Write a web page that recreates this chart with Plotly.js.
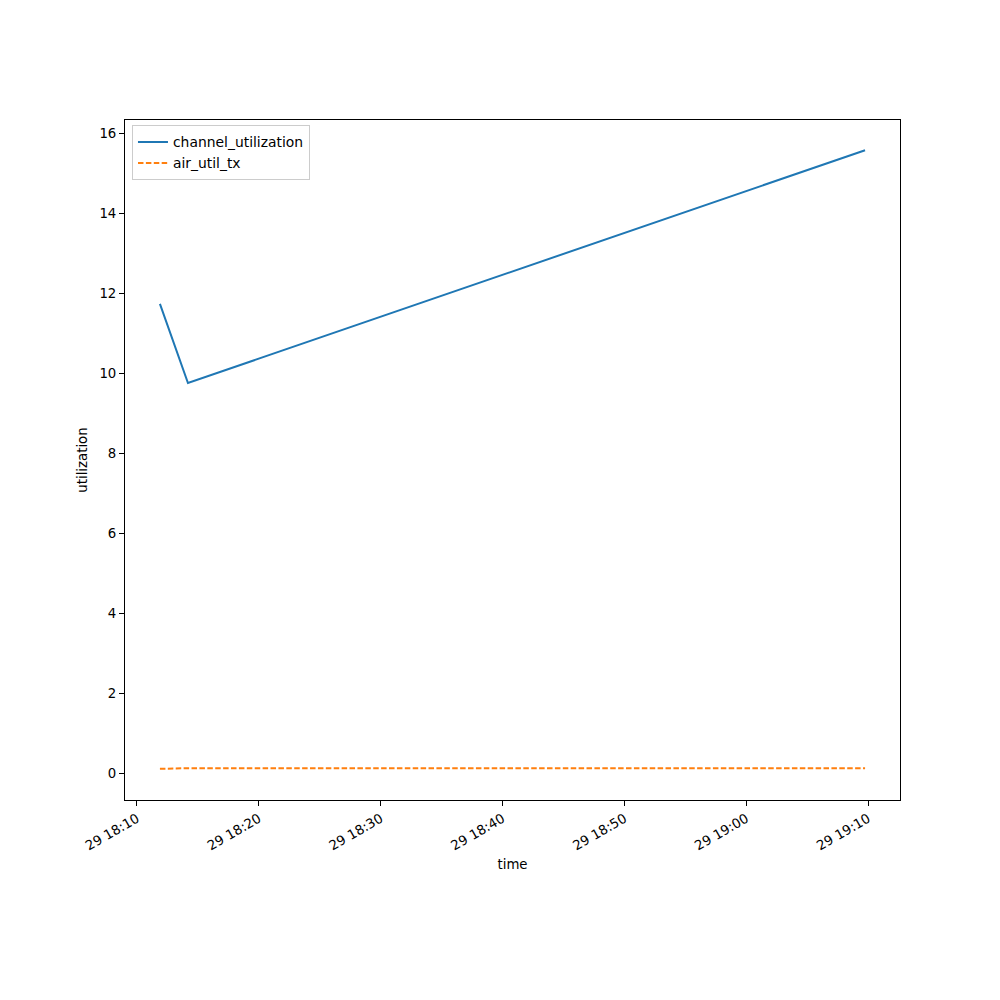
<!DOCTYPE html>
<html>
<head>
<meta charset="utf-8">
<script src="https://cdn.plot.ly/plotly-3.0.1.min.js"></script>
<style>body{margin:0;padding:0;background:#fff;} #chart{width:1000px;height:1000px;}</style>
</head>
<body>
<div id="chart"></div>
<script>
var times = ["2024-01-29 18:11:53", "2024-01-29 18:14:11", "2024-01-29 19:09:45"];
var channelUtilization = [11.73, 9.75, 15.57];
var airUtilTx = [0.105, 0.12, 0.12];
var xTickValues = ["2024-01-29 18:10:00", "2024-01-29 18:20:00", "2024-01-29 18:30:00", "2024-01-29 18:40:00", "2024-01-29 18:50:00", "2024-01-29 19:00:00", "2024-01-29 19:10:00"];
var xTickLabels = ["29 18:10", "29 18:20", "29 18:30", "29 18:40", "29 18:50", "29 19:00", "29 19:10"];
var yTickValues = [0, 2, 4, 6, 8, 10, 12, 14, 16];

var font = {family: "DejaVu Sans, sans-serif", size: 13.3, color: "#000"};
var legendFont = {family: "DejaVu Sans, sans-serif", size: 13.9, color: "#000"};

var traces = [
  {x: times, y: channelUtilization, type: "scatter", mode: "lines", name: "channel_utilization",
   line: {color: "#1f77b4", width: 2}},
  {x: times, y: airUtilTx, type: "scatter", mode: "lines", name: "air_util_tx",
   line: {color: "#ff7f0e", width: 2, dash: "5.5px,2.4px"}}
];

var layout = {
  width: 1000, height: 1000,
  margin: {l: 125, r: 100, t: 120, b: 200},
  paper_bgcolor: "#fff", plot_bgcolor: "#fff",
  font: font,
  showlegend: true,
  legend: {x: 0.009, y: 0.992, xanchor: "left", yanchor: "top", bordercolor: "#cccccc", borderwidth: 1,
           bgcolor: "rgba(255,255,255,0.8)", font: legendFont, tracegroupgap: 0},
  xaxis: {
    type: "date",
    range: ["2024-01-29 18:09:01", "2024-01-29 19:12:37"],
    tickvals: xTickValues, ticktext: xTickLabels,
    tickangle: -30,
    ticks: "outside", ticklen: 5, tickcolor: "#000", tickwidth: 1,
    showline: true, linecolor: "#000", linewidth: 1, mirror: true,
    showgrid: false, zeroline: false,
    tickfont: font,
    title: {text: "time", font: font, standoff: 7}
  },
  yaxis: {
    range: [-0.675, 16.325],
    tickvals: yTickValues,
    ticks: "outside", ticklen: 5, tickcolor: "#000", tickwidth: 1,
    showline: true, linecolor: "#000", linewidth: 1, mirror: true,
    showgrid: false, zeroline: false,
    tickfont: font,
    title: {text: "utilization", font: font, standoff: 8}
  }
};

Plotly.newPlot("chart", traces, layout, {displayModeBar: false, staticPlot: true});
</script>
</body>
</html>
